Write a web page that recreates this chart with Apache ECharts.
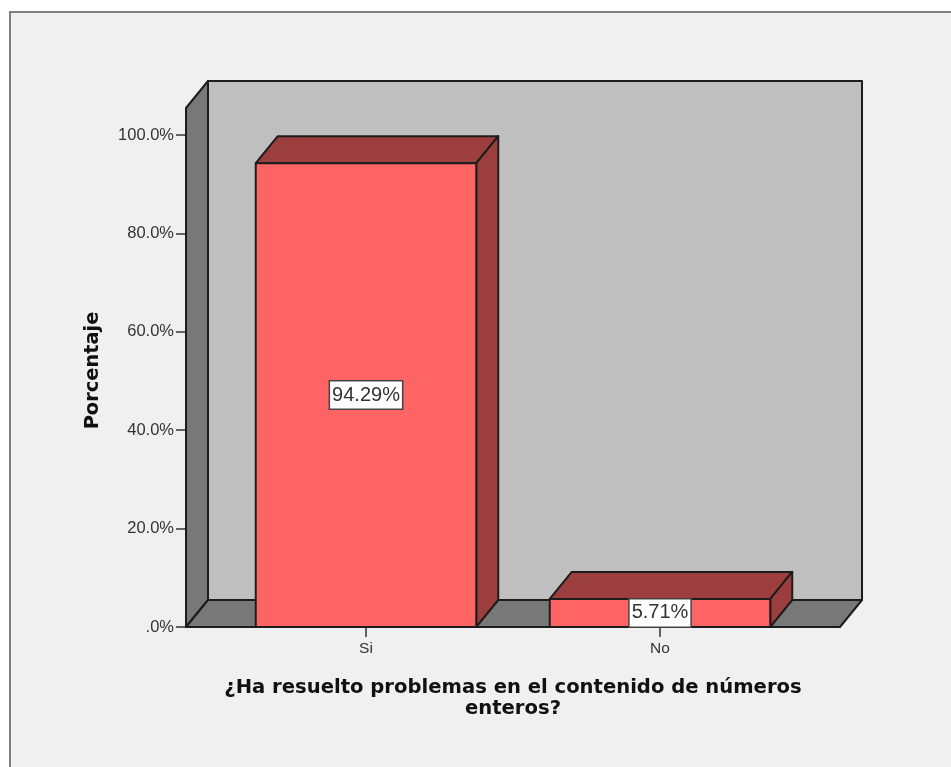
<!DOCTYPE html>
<html>
<head>
<meta charset="utf-8">
<title>Porcentaje</title>
<script src="https://cdn.jsdelivr.net/npm/echarts@6/dist/echarts.min.js"></script>
<style>
  html, body { margin: 0; padding: 0; background: #fff; }
  #main { width: 951px; height: 767px; }
</style>
</head>
<body>
<div id="main"></div>
<script>
  var categories = ['Si', 'No'];
  var percentages = [94.29, 5.71];
  var yTicks = [0, 20, 40, 60, 80, 100];
  var yMax = 105.5;

  // profundidad del efecto 3D
  var depthX = 22;
  var depthY = -27;
  var lineColor = '#1c1c1c';

  function poly(points, fill) {
    return {
      type: 'polygon',
      shape: { points: points },
      style: { fill: fill, stroke: lineColor, lineWidth: 2, lineJoin: 'round' }
    };
  }

  function renderWalls(params) {
    var c = params.coordSys;
    var right = c.x + c.width + 33;
    var left = c.x - 33;
    var top = c.y;
    var base = c.y + c.height;
    return {
      type: 'group',
      children: [
        poly([[left + depthX, top + depthY], [right + depthX, top + depthY], [right + depthX, base + depthY], [left + depthX, base + depthY]], '#bfbfbf'),
        poly([[left, top], [left + depthX, top + depthY], [left + depthX, base + depthY], [left, base]], '#787878'),
        poly([[left, base], [left + depthX, base + depthY], [right + depthX, base + depthY], [right, base]], '#787878')
      ]
    };
  }

  function renderBar(params, api) {
    var val = api.value(1);
    var topPt = api.coord([api.value(0), val]);
    var basePt = api.coord([api.value(0), 0]);
    var w = api.size([1, 0])[0] * 0.75;
    var x0 = topPt[0] - w / 2;
    var x1 = topPt[0] + w / 2;
    var y0 = topPt[1];
    var y1 = basePt[1];
    return {
      type: 'group',
      children: [
        poly([[x0, y0], [x0 + depthX, y0 + depthY], [x1 + depthX, y0 + depthY], [x1, y0]], '#9c3e3e'),
        poly([[x1, y0], [x1 + depthX, y0 + depthY], [x1 + depthX, y1 + depthY], [x1, y1]], '#9c3e3e'),
        poly([[x0, y0], [x1, y0], [x1, y1], [x0, y1]], '#ff6464'),
        {
          type: 'text',
          style: {
            text: val.toFixed(2) + '%',
            x: topPt[0],
            y: (y0 + y1) / 2,
            align: 'center',
            verticalAlign: 'middle',
            fill: '#333',
            fontFamily: 'Liberation Sans',
            fontSize: 20,
            backgroundColor: '#fff',
            borderColor: '#444',
            borderWidth: 1.5,
            padding: [4, 2, 3, 2]
          }
        }
      ]
    };
  }

  var myChart = echarts.init(document.getElementById('main'));
  myChart.setOption({
    animation: false,
    backgroundColor: '#fff',
    graphic: [
      {
        type: 'rect',
        z: -10,
        shape: { x: 10, y: 12, width: 960, height: 780 },
        style: { fill: '#f0f0f0', stroke: '#808080', lineWidth: 2 }
      }
    ],
    grid: { left: 219, width: 588, top: 108, height: 519 },
    xAxis: {
      type: 'category',
      data: categories,
      name: '¿Ha resuelto problemas en el contenido de números\nenteros?',
      nameLocation: 'middle',
      nameGap: 50,
      nameMoveOverlap: false,
      nameTextStyle: { fontFamily: 'DejaVu Sans', fontWeight: 'bold', fontSize: 19.6, color: '#111', lineHeight: 21 },
      axisLine: { show: false },
      axisTick: { show: true, alignWithLabel: true, length: 10, lineStyle: { color: '#333', width: 1.5 } },
      axisLabel: { fontFamily: 'Liberation Sans', fontSize: 15.5, color: '#333', margin: 14 }
    },
    yAxis: {
      type: 'value',
      min: 0,
      max: yMax,
      offset: 33,
      splitLine: { show: false },
      name: 'Porcentaje',
      nameLocation: 'middle',
      nameGap: 84,
      nameMoveOverlap: false,
      nameTextStyle: { fontFamily: 'DejaVu Sans', fontWeight: 'bold', fontSize: 19.4, color: '#111', padding: [0, 6, 0, 0] },
      axisLine: { show: false },
      axisTick: { show: true, length: 10, customValues: yTicks, lineStyle: { color: '#333', width: 1.5 } },
      axisLabel: {
        fontFamily: 'Liberation Sans',
        fontSize: 16.5,
        color: '#333',
        margin: 12,
        padding: [4, 0, 0, 0],
        customValues: yTicks,
        formatter: function (v) {
          return v === 0 ? '.0%' : v.toFixed(1) + '%';
        }
      }
    },
    series: [
      {
        type: 'custom',
        coordinateSystem: 'cartesian2d',
        renderItem: renderWalls,
        data: [[0, 0]],
        clip: false,
        silent: true,
        z: 1
      },
      {
        type: 'custom',
        coordinateSystem: 'cartesian2d',
        renderItem: renderBar,
        data: categories.map(function (c, i) { return [i, percentages[i]]; }),
        encode: { x: 0, y: 1 },
        clip: false,
        z: 2
      }
    ]
  });
</script>
</body>
</html>
